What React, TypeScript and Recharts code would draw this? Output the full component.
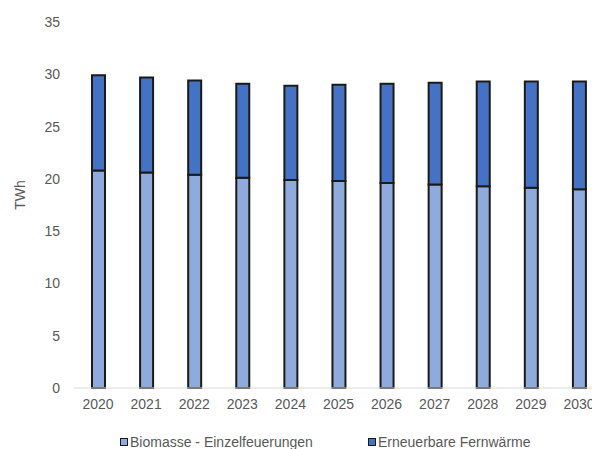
import React from "react";
import { BarChart, Bar, XAxis, YAxis, Legend } from "recharts";

// Wärmebereitstellung aus erneuerbaren Quellen, TWh
const years = ["2020", "2021", "2022", "2023", "2024", "2025", "2026", "2027", "2028", "2029", "2030"];
const biomasse = [20.8, 20.6, 20.4, 20.1, 19.9, 19.8, 19.6, 19.45, 19.3, 19.15, 19.0];
const fernwaerme = [9.1, 9.1, 9.0, 9.0, 9.0, 9.2, 9.5, 9.75, 10.0, 10.15, 10.3];
const yTicks = [0, 5, 10, 15, 20, 25, 30, 35];

const FONT = '"Liberation Sans", Arial, sans-serif';
const TEXT = "#595959";
const LIGHT = "#8FAADC";
const DARK = "#4472C4";
const EDGE = "#1a1a1a";

const data = years.map((year, i) => ({
    year,
    biomasse: biomasse[i],
    fernwaerme: fernwaerme[i],
}));

const legendItems = [
    { label: "Biomasse - Einzelfeuerungen", color: LIGHT, width: 248 },
    { label: "Erneuerbare Fernwärme", color: DARK, width: 200 },
];

function LegendContent() {
    return (
        <div style={{ display: "flex", paddingLeft: 120, height: 14, lineHeight: "14px", fontFamily: FONT, fontSize: 14, color: TEXT }}>
            {legendItems.map(item => (
                <div key={item.label} style={{ display: "flex", alignItems: "center", width: item.width }}>
                    <span style={{ display: "inline-block", width: 6, height: 6, background: item.color, border: `1px solid ${EDGE}`, marginRight: 2 }} />
                    <span>{item.label}</span>
                </div>
            ))}
        </div>
    );
}

function UnitLabel() {
    return (
        <text x={20} y={195} transform="rotate(-90 20 195)" textAnchor="middle" dominantBaseline="central" fill={TEXT} fontSize={14} fontFamily={FONT}>
            TWh
        </text>
    );
}

export default function App() {
    return (
        <div style={{ position: "absolute", left: 0, top: 0, width: 592, height: 449, overflow: "hidden", background: "#fff" }}>
            <BarChart width={612} height={449} data={data} margin={{ top: 22, right: 9, bottom: 0, left: 14 }}>
                <XAxis
                    dataKey="year"
                    tickLine={false}
                    tickSize={0}
                    tickMargin={11}
                    height={47}
                    axisLine={{ stroke: "#d9d9d9", strokeWidth: 1 }}
                    tick={{ fontSize: 14, fill: TEXT, fontFamily: FONT }}
                />
                <YAxis
                    domain={[0, 35]}
                    ticks={yTicks}
                    width={60}
                    axisLine={false}
                    tickLine={false}
                    tickSize={0}
                    tickMargin={14}
                    tick={{ fontSize: 14, fill: TEXT, fontFamily: FONT }}
                    label={{ content: () => <UnitLabel /> }}
                />
                <Legend verticalAlign="bottom" content={() => <LegendContent />} wrapperStyle={{ left: 0, width: 612 }} />
                <Bar dataKey="biomasse" name="Biomasse - Einzelfeuerungen" stackId="a" fill={LIGHT} stroke={EDGE} strokeWidth={2} barSize={13} isAnimationActive={false} />
                <Bar dataKey="fernwaerme" name="Erneuerbare Fernwärme" stackId="a" fill={DARK} stroke={EDGE} strokeWidth={2} barSize={13} isAnimationActive={false} />
            </BarChart>
        </div>
    );
}
